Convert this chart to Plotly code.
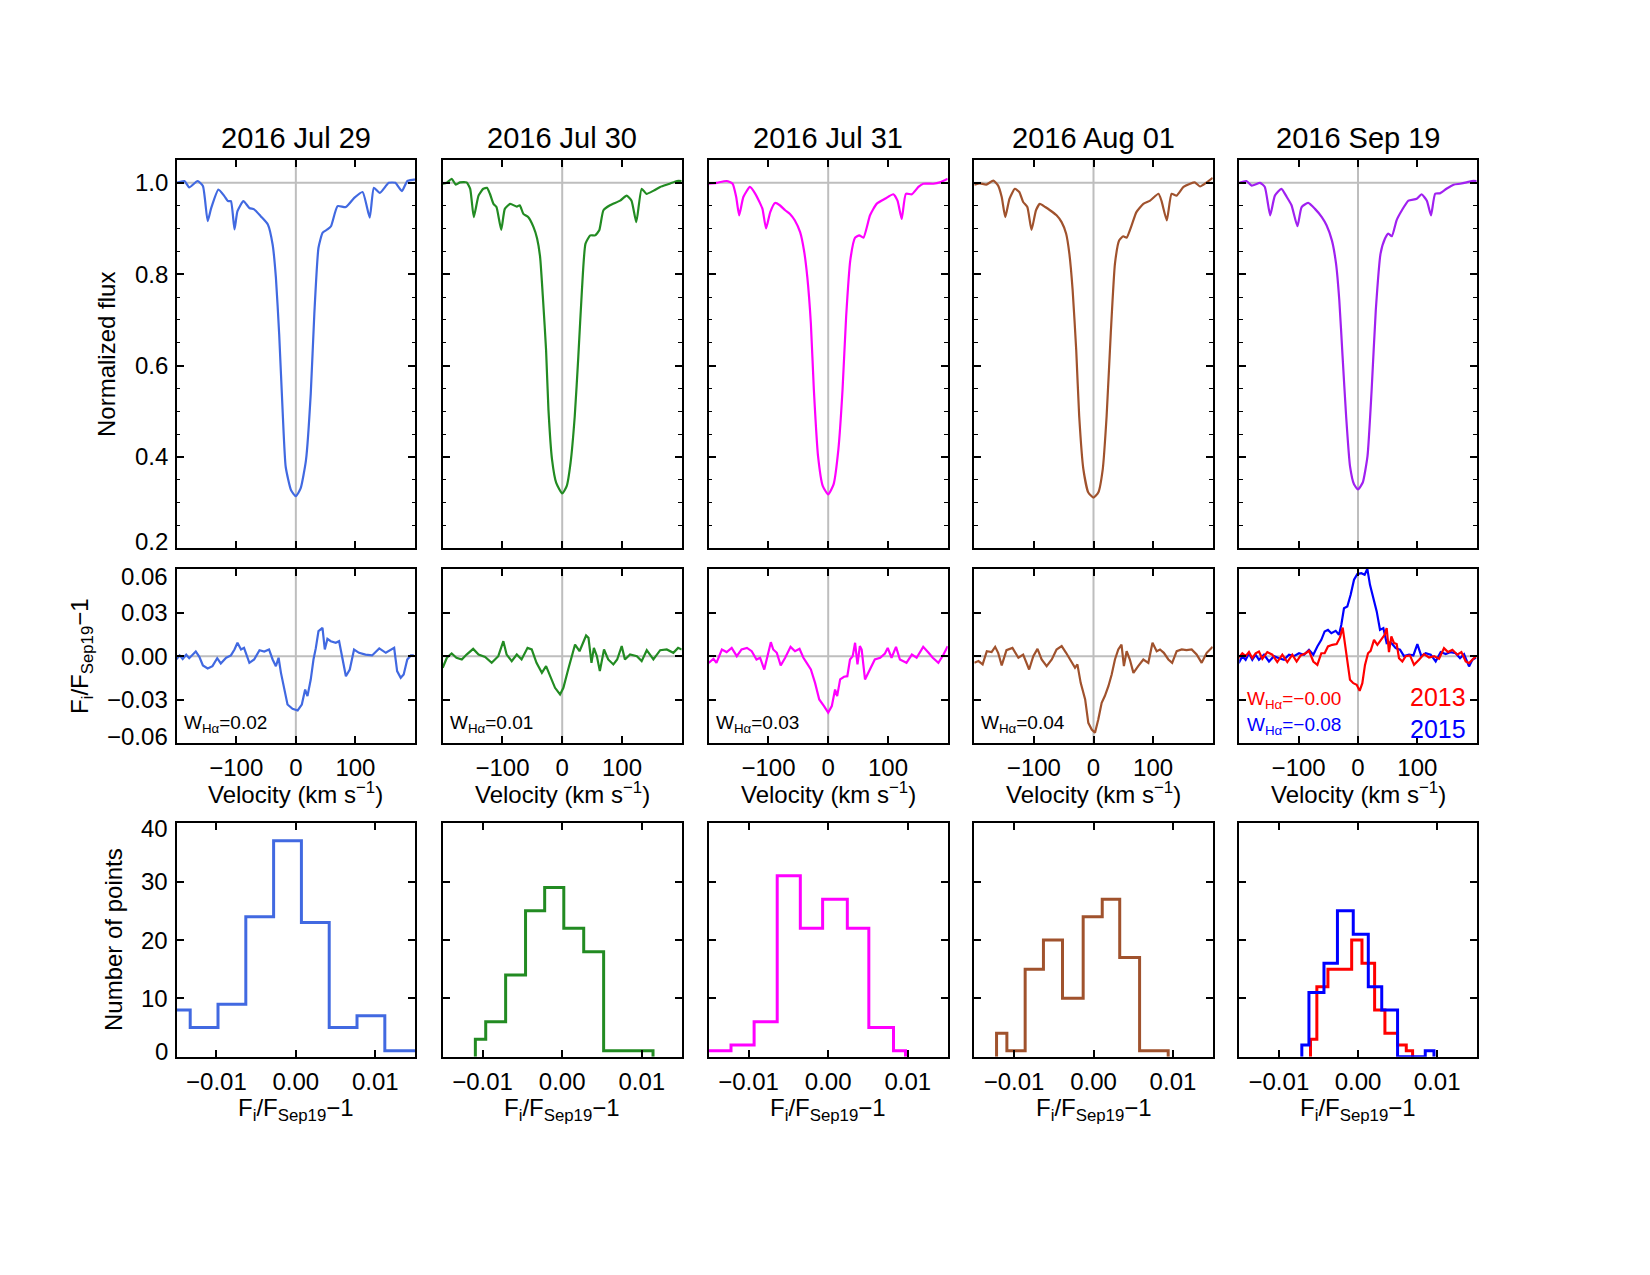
import plotly.graph_objects as go

W, H = 1650, 1275
FONT = "Liberation Sans, Arial, Helvetica, sans-serif"

dates = ["2016 Jul 29", "2016 Jul 30", "2016 Jul 31", "2016 Aug 01", "2016 Sep 19"]
colors = ["#4169E1", "#228B22", "#FF00FF", "#A0522D", "#A020F0"]
w_halpha = ["0.02", "0.01", "0.03", "0.04"]
w_2013 = "−0.00"
w_2015 = "−0.08"
c2013 = "#FF0000"
c2015 = "#0000FF"

# ---------------- top row: normalized flux ----------------
top_v1 = [-200,-187,-179,-165,-156,-148,-142,-130,-120,-114,-109,-103,-98,-88,-78,-70,-59,-47,-39,-33.5,-28,-22,-17,-8,0,8,17,25,31,38,45,53,59,70,84,98,112,124,131,141,156,167,178,187,198,200]
top_f1 = [1.0,1.004,0.99,1.004,0.993,0.916,0.945,0.985,0.971,0.96,0.96,0.898,0.938,0.96,0.945,0.942,0.927,0.909,0.865,0.793,0.669,0.495,0.378,0.327,0.314,0.331,0.393,0.538,0.713,0.858,0.891,0.898,0.905,0.949,0.947,0.967,0.98,0.924,0.989,0.978,1.0,1.0,0.982,1.004,1.007,1.008]

top_v2 = [-200,-193,-185,-178,-171,-160,-154,-148,-140,-132,-126,-121,-115,-110,-102,-96,-87,-76,-71,-65,-57,-48,-42,-37,-32,-27,-23,-17,-10,0,7.5,14,21,27,33,39,47,55,62,69,80,97,108,116,124,133,141,153,164,180,192,200]
top_f2 = [0.998,1.0,1.009,0.996,1.001,1.001,0.987,0.925,0.972,0.987,0.989,0.976,0.954,0.947,0.897,0.943,0.954,0.948,0.951,0.932,0.925,0.903,0.878,0.838,0.743,0.634,0.503,0.394,0.343,0.32,0.336,0.387,0.489,0.62,0.765,0.867,0.885,0.885,0.896,0.94,0.951,0.961,0.972,0.961,0.914,0.987,0.976,0.983,0.991,0.998,1.004,1.004]

top_v3 = [-200,-187,-170,-160,-154,-149,-142,-131,-122,-115,-110,-104,-97,-89,-81,-72,-64,-56,-47,-40.5,-35,-29,-24,-17,-9,0,9,17,24,30,37,45,52,59,70,81,95,109,116,123,130,140,151,159,176,187,200]
top_f3 = [0.998,1.0,1.004,0.998,0.969,0.929,0.969,0.991,0.976,0.958,0.943,0.9,0.936,0.956,0.951,0.94,0.932,0.918,0.892,0.852,0.794,0.692,0.547,0.402,0.336,0.318,0.34,0.416,0.547,0.707,0.831,0.88,0.885,0.88,0.929,0.954,0.965,0.975,0.961,0.921,0.976,0.975,0.991,0.998,0.998,1.001,1.009]

top_v4 = [-200,-190.5,-180,-168,-160,-154,-148,-141,-132,-124.5,-118,-111,-104,-96.5,-90,-81,-73,-62,-53.5,-46,-40.5,-35,-29,-24,-17,-8.7,0,8,15.5,22,29,36,43,50,55.6,64,72,83.6,95,109,114,123,131,139.5,151,162,170,178.7,190,200]
top_f4 = [0.996,0.999,0.996,1.005,0.994,0.969,0.925,0.965,0.987,0.98,0.958,0.947,0.897,0.94,0.954,0.947,0.94,0.929,0.914,0.889,0.845,0.765,0.634,0.489,0.373,0.322,0.311,0.322,0.373,0.489,0.671,0.823,0.874,0.883,0.88,0.907,0.936,0.954,0.961,0.976,0.961,0.918,0.976,0.972,0.991,0.998,1.001,0.992,1.001,1.011]

top_v5 = [-200,-188,-179,-165,-157,-148,-140,-129,-120,-112,-102,-95,-84,-72.5,-61,-53,-44,-37,-31.5,-26,-20,-13.5,-6.7,0,8,16,23,30,38,45.5,51,57,65,74,85,99,107,116,123,130,138,149,161,172,183,192,200]
top_f5 = [1.0,1.004,0.994,1.0,0.991,0.929,0.972,0.987,0.969,0.951,0.905,0.947,0.956,0.943,0.925,0.907,0.874,0.823,0.743,0.62,0.489,0.38,0.34,0.329,0.344,0.402,0.547,0.722,0.845,0.878,0.889,0.883,0.918,0.94,0.961,0.965,0.975,0.961,0.929,0.976,0.977,0.987,0.996,0.998,1.001,1.004,1.004]

# ---------------- middle row: F_i/F_Sep19 - 1 ----------------
mid_v1 = [-201,-195,-190,-184,-179,-173,-168,-162,-156,-148,-140,-132,-126,-117,-109,-103,-98,-92,-87,-78,-70,-61,-53,-45,-39,-33.5,-29,-25,-19.5,-14,-5.6,3,10,15.6,19.5,25,29.6,33.5,38,44.7,48.6,53,58.6,67,72.6,79,84,90.5,97.7,106,117,128,140,151,165,170,176,181,187,193,198]
mid_r1 = [-0.0023,0.0005,-0.002,0.001,-0.0014,0.0014,0.0032,-0.0005,-0.0064,-0.0085,-0.0069,-0.0014,-0.005,-0.0011,0.0005,0.0046,0.0092,0.0046,0.0057,-0.0046,-0.0023,0.0041,0.0032,0.0046,-0.0023,-0.0069,-0.0011,-0.0115,-0.023,-0.0333,-0.0363,-0.0374,-0.0333,-0.023,-0.0275,-0.0161,-0.0023,0.0055,0.0172,0.0195,0.0046,0.0119,0.0103,0.0092,0.0103,-0.0046,-0.0138,-0.0092,0.0046,0.0023,0.0011,0.0005,0.0053,0.0023,0.0057,-0.0103,-0.0149,-0.0126,-0.0023,0.0005,0.0005]

mid_v2 = [-200,-193,-185,-177,-168,-160,-149,-140,-129,-118,-107,-98.5,-93,-84.5,-76,-68,-58,-51,-43,-34,-27,-20,-12,-3.6,2,10,16,21.5,29,35,40,44,49,53,58,63,70,77,85.6,92,99.6,105,113.6,125,133,141.5,152.6,164,175,186,194,200]
mid_r2 = [-0.008,-0.0011,0.0018,-0.0011,-0.0023,0.0011,0.005,0.0011,-0.0005,-0.0046,0,0.0103,0.0011,-0.0034,0.0011,-0.0023,0.0057,0.0046,-0.0046,-0.0115,-0.0069,-0.0138,-0.0218,-0.0264,-0.0218,-0.0092,-0.0011,0.008,0.0034,0.0096,0.0142,0.0126,-0.0046,0.0057,0,-0.0103,0.0046,-0.0023,-0.0057,-0.0023,0.0069,-0.0023,0.0011,0,-0.0034,0.0041,-0.0023,0.0041,0.0046,0.0023,0.0057,0.0046]

mid_v3 = [-200,-192,-187,-178,-170,-161.5,-153,-145,-136,-128,-120,-114,-107,-100,-96,-92,-86,-79.5,-72,-63,-55.5,-48,-41.5,-36,-29,-22,-15,-7,0,6,11.5,15,20,26.5,32,36.5,41,45,49,53,56,61.6,70,78,87,95,99.6,106,113.5,120,131,140,148,159,168,175,184.4,193,200]
mid_r3 = [-0.0046,-0.0018,-0.0046,0.0046,0.0028,0.0057,0,0.0046,0.0057,0.0034,-0.0023,-0.0011,-0.0092,0.0023,0.0096,0.0046,0.0023,-0.0064,-0.0011,0.0064,0.0034,0.005,-0.0011,-0.0046,-0.0092,-0.0184,-0.0298,-0.0344,-0.0389,-0.0344,-0.023,-0.0275,-0.016,-0.0142,-0.0138,-0.0023,0,0.0092,-0.0057,0.0069,0.0046,-0.016,-0.0092,-0.0023,-0.0011,0.0018,0.0057,-0.0011,0.0064,-0.0023,-0.0046,0.0011,-0.0011,0.0064,0.0023,-0.0011,-0.0046,0.0011,0.0069]

mid_v4 = [-200,-193,-186,-179,-171,-165,-160,-154,-146,-136,-126,-118,-108,-101,-94,-87,-78.6,-70,-62,-53.4,-46,-39.5,-31,-27,-21.5,-14,-8.7,-3,2.5,8,13.7,19,25,30.5,36,41.6,47,51,55.6,61,67,75,83.6,92,99,106,111.6,118,125.6,132,139.6,148,156,164.7,173,181.5,190,200]
mid_r4 = [-0.0046,-0.0034,-0.0057,0.0034,0.0028,0.0064,0.0023,-0.0064,0.0041,0.0057,-0.0011,0.0011,-0.0092,0,0.005,-0.0023,-0.0069,-0.0023,0.0046,0.0069,0.0023,-0.0023,-0.008,-0.0057,-0.0184,-0.0298,-0.0459,-0.0505,-0.0528,-0.0436,-0.0321,-0.0275,-0.0207,-0.0126,-0.0023,0.0046,0.008,-0.0069,0.0034,-0.0023,-0.0115,-0.0069,-0.0023,-0.0046,0.0092,0.0034,0.0046,0.0023,-0.0023,-0.0046,0.0034,0.0046,0.0041,0.0046,0.0011,-0.0046,0.0023,0.0064]

mid_v5_2015 = [-201.1,-194.9,-189.3,-183.7,-178.1,-172.5,-166.9,-158.4,-150.0,-141.6,-133.1,-124.7,-116.3,-107.9,-99.4,-91.0,-82.6,-75.3,-68.5,-61.8,-56.2,-50.6,-44.9,-37.6,-32.0,-28.1,-23.6,-18.0,-12.4,-6.7,-1.1,5.6,11.2,15.7,20.2,25.8,31.5,37.1,42.7,48.3,55.1,63.5,70.8,77.5,86.0,93.3,100.0,106.7,114.0,122.5,130.9,139.3,147.8,156.2,164.6,171.9,178.7,187.1,192.7,198.9]
mid_r5_2015 = [-0.0048,0,-0.0025,0.002,-0.0025,0.001,-0.0025,0.001,-0.0037,0,-0.0014,-0.0025,0.001,0,0.002,0.001,0.0044,0.001,0.0067,0.0112,0.017,0.0181,0.0158,0.0174,0.0147,0.0216,0.033,0.0342,0.0422,0.0526,0.0565,0.0571,0.056,0.0601,0.0491,0.04,0.0308,0.0181,0.0193,0.009,0.0096,0.0055,0.0044,0,0.001,0.0005,0.0083,0,0.002,0.001,-0.0037,0.0028,0.0014,0.0028,0.002,-0.0014,0.0014,-0.0071,-0.0025,-0.0009]

mid_v5_2013 = [-201.1,-194.9,-189.3,-183.7,-178.1,-172.5,-166.9,-161.2,-152.8,-144.4,-136.0,-127.5,-119.1,-110.7,-103.4,-96.6,-88.2,-82.6,-75.3,-68.5,-61.8,-56.2,-50.6,-43.3,-36.0,-30.3,-25.8,-22.5,-18.0,-13.5,-7.9,-2.2,2.8,7.3,11.8,16.9,21.3,27.0,32.6,39.3,44.9,48.3,52.2,56.2,60.7,65.2,69.1,74.7,80.3,87.6,94.4,102.8,111.2,119.7,128.1,136.5,144.9,151.7,159.0,167.4,174.2,181.5,187.1,192.7,198.9]
mid_r5_2013 = [-0.0014,0.002,0,0.0028,-0.0014,0.002,0.0032,-0.0018,0.0028,0.001,-0.0041,0.001,-0.0041,0.001,-0.0037,0.0005,0.002,0.0037,-0.0037,-0.006,0.002,0.002,0.0067,0.0078,0.0083,0.0129,0.0197,0.009,-0.0037,-0.0163,-0.0186,-0.0197,-0.0239,-0.0186,-0.006,0.002,0.0037,0.0112,0.0078,0.0119,0.0147,0.0193,0.0028,0.0135,0.009,0.0083,-0.0014,-0.0037,0,0.0005,-0.006,-0.0025,0.0014,-0.0009,0,-0.0018,0.0055,0.0028,0.0044,0.001,0.0028,-0.0037,-0.0048,-0.0025,0]

# ---------------- bottom row: histograms (bin edges, counts) ----------------
hist_e1 = [-0.0168,-0.0133,-0.0098,-0.0063,-0.0028,0.0007,0.0042,0.0077,0.0112,0.0155]
hist_c1 = [8,5,9,24,37,23,5,7,1]
hist_e2 = [-0.0109,-0.0096,-0.0071,-0.0046,-0.0022,0.0002,0.0027,0.0052,0.0114]
hist_c2 = [3,6,14,25,29,22,18,1]
hist_e3 = [-0.0152,-0.0122,-0.0093,-0.0064,-0.0035,-0.0007,0.0024,0.0051,0.0082,0.0097]
hist_c3 = [1,2,6,31,22,27,22,5,1]
hist_e4 = [-0.0122,-0.0109,-0.0086,-0.0063,-0.0039,-0.0013,0.0011,0.0033,0.0058,0.0094]
hist_c4 = [4,1,15,20,10,24,27,17,1]
hist_e5_2013 = [-0.006,-0.0052,-0.0038,-0.0008,0.0005,0.0021,0.0034,0.005,0.0061,0.0069]
hist_c5_2013 = [3,12,15,20,16,8,4,2,1]
hist_e5_2015 = [-0.0071,-0.0062,-0.0043,-0.0026,-0.0006,0.0013,0.003,0.005,0.0085,0.0096]
hist_c5_2015 = [2,11,16,25,21,12,8,0,1]

# tick values / labels
top_yticks = [0.2, 0.4, 0.6, 0.8, 1.0]
mid_yticks = [-0.06, -0.03, 0.0, 0.03, 0.06]
hist_yticks = [0, 10, 20, 30, 40]
vel_ticks = [-100, 0, 100]
hist_xticks = [-0.01, 0.0, 0.01]

top_v = [top_v1, top_v2, top_v3, top_v4, top_v5]
top_f = [top_f1, top_f2, top_f3, top_f4, top_f5]
mid_v = [mid_v1, mid_v2, mid_v3, mid_v4]
mid_r = [mid_r1, mid_r2, mid_r3, mid_r4]
hist_e = [hist_e1, hist_e2, hist_e3, hist_e4]
hist_c = [hist_c1, hist_c2, hist_c3, hist_c4]

# ---------------- layout geometry (pixels) ----------------
col_px = [(176.7, 415.0), (442.7, 681.7), (708.7, 947.7), (974.3, 1212.7), (1239.3, 1476.7)]
row_px = [(160.0, 548.3), (569.0, 743.3), (823.3, 1056.7)]


def xd(px):
    return px / W


def yd(px):
    return 1 - px / H


def ax_id(r, c):
    return r * 5 + c + 1


def xname(k):
    return "x" if k == 1 else "x%d" % k


def yname(k):
    return "y" if k == 1 else "y%d" % k


def step_path(edges, counts):
    xs, ys = [edges[0]], [0]
    for i, cnt in enumerate(counts):
        xs += [edges[i], edges[i + 1]]
        ys += [cnt, cnt]
    xs.append(edges[-1])
    ys.append(0)
    return xs, ys


fig = go.Figure()
layout = dict(
    width=W, height=H, autosize=False,
    margin=dict(l=0, r=0, t=0, b=0),
    paper_bgcolor="white", plot_bgcolor="white",
    showlegend=False,
    font=dict(family=FONT, size=24, color="black"),
)

base_axis = dict(
    showline=True, linecolor="black", linewidth=2, mirror="allticks",
    ticks="inside", ticklen=7, tickwidth=1.6, tickcolor="black",
    showgrid=False, zeroline=False,
    tickfont=dict(family=FONT, size=24, color="black"),
)

shapes = []
GRAY = "#BEBEBE"

for r in range(3):
    for c in range(5):
        k = ax_id(r, c)
        xa = dict(base_axis)
        ya = dict(base_axis)
        xa["domain"] = [xd(col_px[c][0]), xd(col_px[c][1])]
        ya["domain"] = [yd(row_px[r][1]), yd(row_px[r][0])]
        xa["anchor"] = yname(k)
        ya["anchor"] = xname(k)
        if r == 0:
            xa.update(range=[-200, 200], tickvals=vel_ticks, showticklabels=False)
            ya.update(range=[0.2, 1.05], tickvals=top_yticks, showticklabels=False,
                      minor=dict(dtick=0.05, tick0=0.2, ticks="inside", ticklen=3.5,
                                 tickwidth=1.3, tickcolor="black", showgrid=False))
        elif r == 1:
            xa.update(range=[-200, 200], tickvals=vel_ticks, showticklabels=True,
                      ticklabelstandoff=2)
            ya.update(range=[-0.06, 0.06], tickvals=mid_yticks, showticklabels=False)
        else:
            xa.update(range=[-0.015, 0.015], tickvals=hist_xticks, tickformat=".2f",
                      showticklabels=True, ticklabelstandoff=2)
            ya.update(range=[0, 40], tickvals=hist_yticks, showticklabels=False)
        layout["xaxis" if k == 1 else "xaxis%d" % k] = xa
        layout["yaxis" if k == 1 else "yaxis%d" % k] = ya

        if r < 2:
            yref_val = 1.0 if r == 0 else 0.0
            shapes.append(dict(type="line", xref=xname(k) + " domain", yref=yname(k),
                               x0=0, x1=1, y0=yref_val, y1=yref_val,
                               line=dict(color=GRAY, width=2), layer="below"))
            shapes.append(dict(type="line", xref=xname(k), yref=yname(k) + " domain",
                               x0=0, x1=0, y0=0, y1=1,
                               line=dict(color=GRAY, width=2), layer="below"))

# traces
for c in range(5):
    k = ax_id(0, c)
    fig.add_trace(go.Scatter(x=top_v[c], y=top_f[c], mode="lines",
                             line=dict(color=colors[c], width=2.2, shape="spline", smoothing=0.5),
                             xaxis=xname(k), yaxis=yname(k)))
for c in range(4):
    k = ax_id(1, c)
    fig.add_trace(go.Scatter(x=mid_v[c], y=mid_r[c], mode="lines",
                             line=dict(color=colors[c], width=2.2),
                             xaxis=xname(k), yaxis=yname(k)))
k = ax_id(1, 4)
fig.add_trace(go.Scatter(x=mid_v5_2015, y=mid_r5_2015, mode="lines",
                         line=dict(color=c2015, width=2.2), xaxis=xname(k), yaxis=yname(k)))
fig.add_trace(go.Scatter(x=mid_v5_2013, y=mid_r5_2013, mode="lines",
                         line=dict(color=c2013, width=2.2), xaxis=xname(k), yaxis=yname(k)))

for c in range(4):
    k = ax_id(2, c)
    hx, hy = step_path(hist_e[c], hist_c[c])
    fig.add_trace(go.Scatter(x=hx, y=hy, mode="lines",
                             line=dict(color=colors[c], width=3),
                             xaxis=xname(k), yaxis=yname(k)))
k = ax_id(2, 4)
hx, hy = step_path(hist_e5_2013, hist_c5_2013)
fig.add_trace(go.Scatter(x=hx, y=hy, mode="lines", line=dict(color=c2013, width=3),
                         xaxis=xname(k), yaxis=yname(k)))
hx, hy = step_path(hist_e5_2015, hist_c5_2015)
fig.add_trace(go.Scatter(x=hx, y=hy, mode="lines", line=dict(color=c2015, width=3),
                         xaxis=xname(k), yaxis=yname(k)))

# annotations
ann = []


def add_text(text, xpx, ypx, size, color="black", xanchor="center", yanchor="middle", angle=0):
    ann.append(dict(text=text, x=xd(xpx), y=yd(ypx), xref="paper", yref="paper",
                    xanchor=xanchor, yanchor=yanchor, showarrow=False, textangle=angle,
                    font=dict(family=FONT, size=size, color=color)))


def fmt_num(v, nd):
    s = ("%." + str(nd) + "f") % abs(v)
    return ("−" + s) if v < 0 else s


# y tick labels for the first column, placed on the axis scale; the extreme
# labels are nudged inside the frame as in the original
def add_ytick_labels(k, ticks, nd, lo, hi, nudge):
    for t in ticks:
        ys = 0
        if t == lo:
            ys = nudge
        elif t == hi:
            ys = -nudge
        ann.append(dict(text=fmt_num(t, nd), x=xd(col_px[0][0]), xref="paper",
                        y=t, yref=yname(k), xanchor="right", yanchor="middle",
                        xshift=-7, yshift=ys, showarrow=False,
                        font=dict(family=FONT, size=24, color="black")))


add_ytick_labels(ax_id(0, 0), top_yticks, 1, 0.2, 1.05, 7)
add_ytick_labels(ax_id(1, 0), mid_yticks, 2, -0.06, 0.06, 7)
add_ytick_labels(ax_id(2, 0), hist_yticks, 0, 0, 40, 5)

for c in range(5):
    cx = (col_px[c][0] + col_px[c][1]) / 2
    add_text(dates[c], cx, 137.5, 29)
    add_text("Velocity (km s<sup>−1</sup>)", cx, 793, 24)
    add_text("F<sub>i</sub>/F<sub>Sep19</sub>−1", cx, 1109, 24)

add_text("Normalized flux", 106, 355, 24, angle=-90)
add_text("F<sub>i</sub>/F<sub>Sep19</sub>−1", 81, 656, 24, angle=-90)
add_text("Number of points", 113, 940, 24, angle=-90)

for c in range(4):
    add_text("W<sub>Hα</sub>=" + w_halpha[c], col_px[c][0] + 5, 724, 19, xanchor="left")

add_text("W<sub>Hα</sub>=" + w_2013, 1245, 700, 19, color=c2013, xanchor="left")
add_text("W<sub>Hα</sub>=" + w_2015, 1245, 726, 19, color=c2015, xanchor="left")
add_text("2013", 1468, 697, 25, color=c2013, xanchor="right")
add_text("2015", 1468, 729, 25, color=c2015, xanchor="right")

layout["annotations"] = ann
layout["shapes"] = shapes
fig.update_layout(**layout)

fig.write_html("out.html")
